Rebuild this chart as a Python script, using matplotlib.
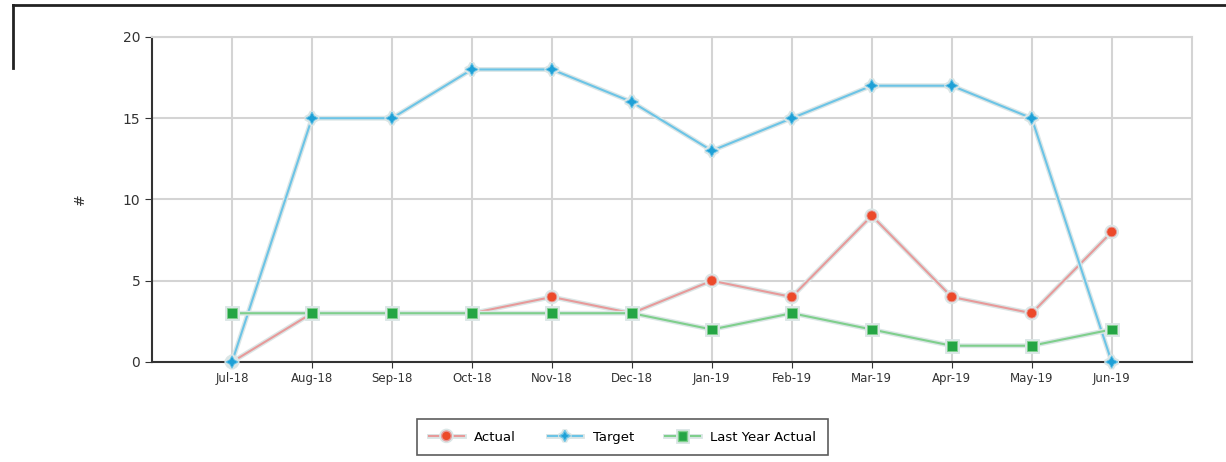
import matplotlib
matplotlib.use("Agg")
import matplotlib.pyplot as plt
from matplotlib.lines import Line2D
import matplotlib.patheffects as pe

# Monthly counts, Jul-18 .. Jun-19
months = ["Jul-18", "Aug-18", "Sep-18", "Oct-18", "Nov-18", "Dec-18",
          "Jan-19", "Feb-19", "Mar-19", "Apr-19", "May-19", "Jun-19"]
actual = [0, 3, 3, 3, 4, 3, 5, 4, 9, 4, 3, 8]
target = [0, 15, 15, 18, 18, 16, 13, 15, 17, 17, 15, 0]
last_year = [3, 3, 3, 3, 3, 3, 2, 3, 2, 1, 1, 2]
y_ticks = [0, 5, 10, 15, 20]

SERIES = [
    # label, values, line colour, marker colour, marker
    ("Actual", actual, "#e79a9a", "#ec4a2a", "o"),
    ("Target", target, "#6cc4e6", "#1ea0d6", (4, 1, 0)),
    ("Last Year Actual", last_year, "#7fcf8c", "#25a545", "s"),
]

plt.rcParams["font.family"] = ["DejaVu Sans"]

fig = plt.figure(figsize=(12.26, 4.62), dpi=100)
ax = fig.add_axes([0.124, 0.2165, 0.848, 0.7035])

x = list(range(len(months)))
halo = [pe.Stroke(linewidth=3.5, foreground="#dbe6e6"), pe.Normal()]
order = [2, 0, 1]
for i in order:
    label, vals, lc, mc, mk = SERIES[i]
    ms = 9 if mk == (4, 1, 0) else 7
    ax.plot(x, vals, color=lc, linewidth=1.5, marker=mk, markersize=ms,
            markerfacecolor=mc, markeredgecolor=lc, markeredgewidth=0.6,
            path_effects=halo, zorder=3 + i, label=label, clip_on=False)

ax.set_xlim(-1, len(months))
ax.set_ylim(0, 20)
ax.set_yticks(y_ticks)
ax.set_xticks(x)
ax.set_xticklabels(months, fontsize=8.5, color="#333333")
ax.tick_params(axis="y", labelsize=10, colors="#333333", length=5)
ax.tick_params(axis="x", length=4, colors="#333333")

# grid on every category and every y tick, including the frame edges
ax.grid(True, color="#d4d4d4", linewidth=1.5, zorder=0)
ax.set_axisbelow(True)
for s in ("top", "right"):
    ax.spines[s].set_color("#d4d4d4")
    ax.spines[s].set_linewidth(1.5)
for s in ("left", "bottom"):
    ax.spines[s].set_color("#333333")
    ax.spines[s].set_linewidth(1.5)
ax.set_ylabel("#", fontsize=10, color="#333333", labelpad=26, rotation=90)

handles = [Line2D([], [], color=lc, linewidth=1.5, marker=mk,
                  markersize=7 if mk != (4, 1, 0) else 8,
                  markerfacecolor=mc, markeredgecolor=lc,
                  path_effects=halo)
           for _, _, lc, mc, mk in SERIES]
leg = fig.legend(handles, [s[0] for s in SERIES], loc="lower center",
                 bbox_to_anchor=(0.508, 0.0), ncol=3, fontsize=9.5,
                 frameon=True, fancybox=False, handlelength=2.6,
                 columnspacing=2.4, borderpad=0.9)
leg.get_frame().set_edgecolor("#333333")
leg.get_frame().set_linewidth(1.2)

# partial outer panel border
fig.add_artist(Line2D([0.011, 1.0], [0.989, 0.989], color="#222222",
                      linewidth=2, transform=fig.transFigure))
fig.add_artist(Line2D([0.011, 0.011], [0.989, 0.853], color="#222222",
                      linewidth=2, transform=fig.transFigure))

fig.savefig("out.png", dpi=100)
